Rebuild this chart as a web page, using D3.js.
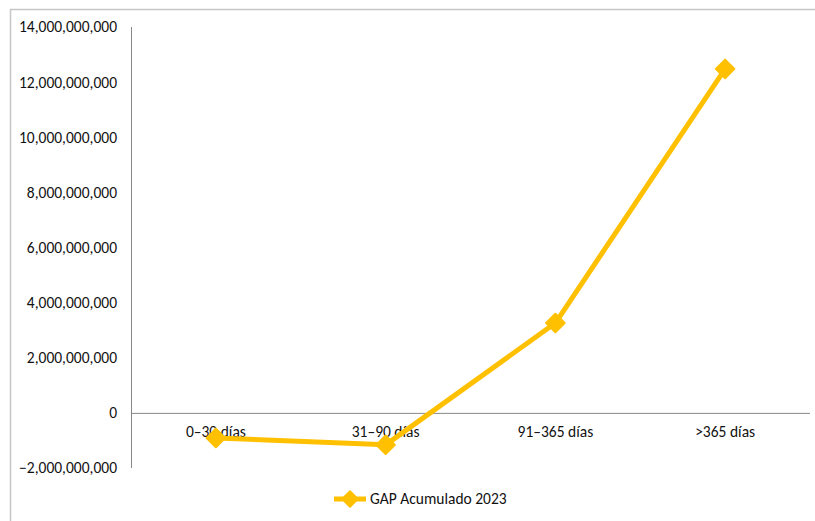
<!DOCTYPE html>
<html>
<head>
<meta charset="utf-8">
<script src="https://cdn.jsdelivr.net/npm/d3@7"></script>
<style>
  body { margin: 0; background: #fff; }
  svg { display: block; }
  text { font-family: Carlito, "Liberation Sans", Arial, sans-serif; fill: #111; }
</style>
</head>
<body>
<div id="chart"></div>
<script>
// Data
const categories = ["0\u201330 d\u00edas", "31\u201390 d\u00edas", "91\u2013365 d\u00edas", ">365 d\u00edas"];
const gapValues  = [-910000000, -1160000000, 3260000000, 12480000000];
const yTicks     = [-2e9, 0, 2e9, 4e9, 6e9, 8e9, 10e9, 12e9, 14e9];
const seriesName = "GAP Acumulado 2023";

const width = 815, height = 521;
const margin = {top: 27, right: 5, bottom: 53, left: 131};
const innerW = width - margin.left - margin.right;
const innerH = height - margin.top - margin.bottom;
const color = "#ffc000";
const fontSize = "15.5px";

const svg = d3.select("#chart").append("svg")
    .attr("width", width)
    .attr("height", height);

// outer chart frame
svg.append("rect")
    .attr("x", 10.5).attr("y", 9.5)
    .attr("width", width + 20).attr("height", height + 20)
    .attr("fill", "none")
    .attr("stroke", "#c6c6c6")
    .attr("stroke-width", 1.5);

const g = svg.append("g").attr("transform", `translate(${margin.left}, ${margin.top})`);

const xScale = d3.scaleBand().domain(categories).range([0, innerW]);
const yScale = d3.scaleLinear().domain([-2e9, 14e9]).range([innerH, 0]);
const X = (d, i) => xScale(categories[i]) + xScale.bandwidth() / 2;
const Y = d => yScale(d);

// y axis
const yAxis = d3.axisLeft(yScale)
    .tickValues(yTicks)
    .tickSize(0)
    .tickPadding(14)
    .tickFormat(d3.format(",.0f"));

g.append("g").call(yAxis)
    .call(a => a.select(".domain").attr("stroke", "#888").attr("d", `M0.5,0V${innerH}`))
    .call(a => a.selectAll("text")
        .style("font-size", fontSize)
        .attr("fill", "#111")
        .attr("dy", "0.32em"));

// zero baseline with category labels
const xAxis = d3.axisBottom(xScale).tickSize(0).tickPadding(13);
g.append("g")
    .attr("transform", `translate(0, ${Y(0)})`)
    .call(xAxis)
    .call(a => a.select(".domain").attr("stroke", "#888").attr("d", `M0,0.5H${innerW}`))
    .call(a => a.selectAll("text").style("font-size", fontSize).attr("fill", "#111"));

// line
const lineFn = d3.line().x(X).y(Y);
g.append("path")
    .datum(gapValues)
    .attr("d", lineFn)
    .attr("fill", "none")
    .attr("stroke", color)
    .attr("stroke-width", 5)
    .attr("stroke-linejoin", "round");

const diamond = d3.symbol().type(d3.symbolDiamond2).size(220);
g.selectAll(".marker")
    .data(gapValues)
    .join("path")
    .attr("class", "marker")
    .attr("transform", (d, i) => `translate(${X(d, i)}, ${Y(d)})`)
    .attr("d", diamond)
    .attr("fill", color)
    .attr("stroke", color)
    .attr("stroke-width", 2)
    .attr("stroke-linejoin", "round");

// legend
const legend = svg.append("g").attr("transform", "translate(334, 499)");
legend.append("line")
    .attr("x1", 0).attr("x2", 32)
    .attr("stroke", color).attr("stroke-width", 5);
legend.append("path")
    .attr("transform", "translate(16, 0)")
    .attr("d", d3.symbol().type(d3.symbolDiamond2).size(150))
    .attr("fill", color).attr("stroke", color).attr("stroke-width", 2)
    .attr("stroke-linejoin", "round");
legend.append("text")
    .attr("x", 36).attr("dy", "0.35em")
    .style("font-size", fontSize)
    .text(seriesName);
</script>
</body>
</html>
